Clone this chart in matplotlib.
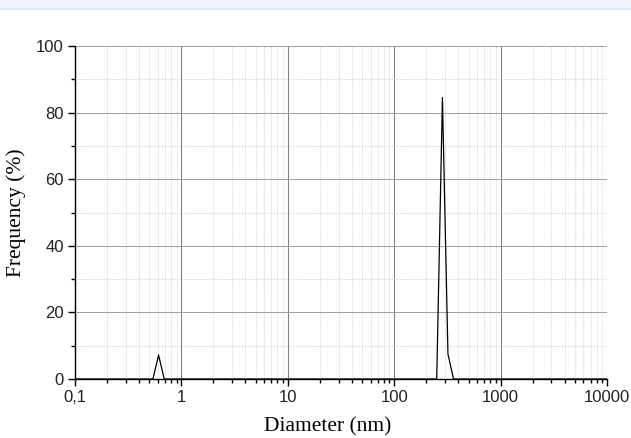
import matplotlib
matplotlib.use("Agg")
import matplotlib.pyplot as plt
from matplotlib.ticker import LogLocator, MultipleLocator, NullFormatter
import matplotlib.patches as mpatches

diameter = [0.1, 0.54, 0.61, 0.69, 251, 284, 320, 361, 10000]
frequency = [0, 0, 7.2, 0, 0, 84.5, 7.5, 0, 0]
xticks = [0.1, 1, 10, 100, 1000, 10000]
xticklabels = ["0,1", "1", "10", "100", "1000", "10000"]
yticks = [0, 20, 40, 60, 80, 100]

fig = plt.figure(figsize=(6.31, 4.38), dpi=100)
# top band
fig.patches.append(mpatches.Rectangle((0, 1 - 8 / 438), 1, 8 / 438, transform=fig.transFigure,
                                      facecolor="#eef3fb", edgecolor="none", zorder=0))
fig.lines.append(plt.Line2D([0, 1], [1 - 8.5 / 438, 1 - 8.5 / 438], transform=fig.transFigure,
                            color="#cfe6f6", lw=1.2))

ax = fig.add_axes([75 / 631, 1 - 379 / 438, (607 - 75) / 631, (379 - 46) / 438])
ax.plot(diameter, frequency, color="black", lw=0.9, zorder=3)
ax.set_xscale("log")
ax.set_xlim(0.1, 10000)
ax.set_ylim(0, 100)
ax.set_xticks(xticks)
ax.set_xticklabels(xticklabels)
ax.xaxis.set_minor_locator(LogLocator(base=10, subs=range(2, 10), numticks=20))
ax.xaxis.set_minor_formatter(NullFormatter())
ax.set_yticks(yticks)
ax.yaxis.set_minor_locator(MultipleLocator(10))

ax.grid(True, which="major", axis="x", color="#808080", lw=0.8)
ax.grid(True, which="major", axis="y", color="#a0a0a0", lw=0.7)
ax.grid(True, which="minor", axis="both", color="#cfcfcf", lw=0.6, linestyle=(0, (1, 1)))

for s in ["top", "right"]:
    ax.spines[s].set_visible(False)
for s in ["left", "bottom"]:
    ax.spines[s].set_linewidth(1.0)
    ax.spines[s].set_color("black")

ax.tick_params(which="major", direction="out", length=5, width=1, labelsize=12,
               labelfontfamily="Liberation Sans", labelcolor="#222222", pad=3)
ax.tick_params(which="minor", direction="out", length=3, width=1)

ax.set_xlabel("Diameter (nm)", family="Liberation Serif", fontsize=15.5)
ax.xaxis.set_label_coords((328 - 75) / 532, -0.115)
ax.set_ylabel("Frequency (%)", family="Liberation Serif", fontsize=15.5, labelpad=7)

fig.savefig("out.png", dpi=100)
